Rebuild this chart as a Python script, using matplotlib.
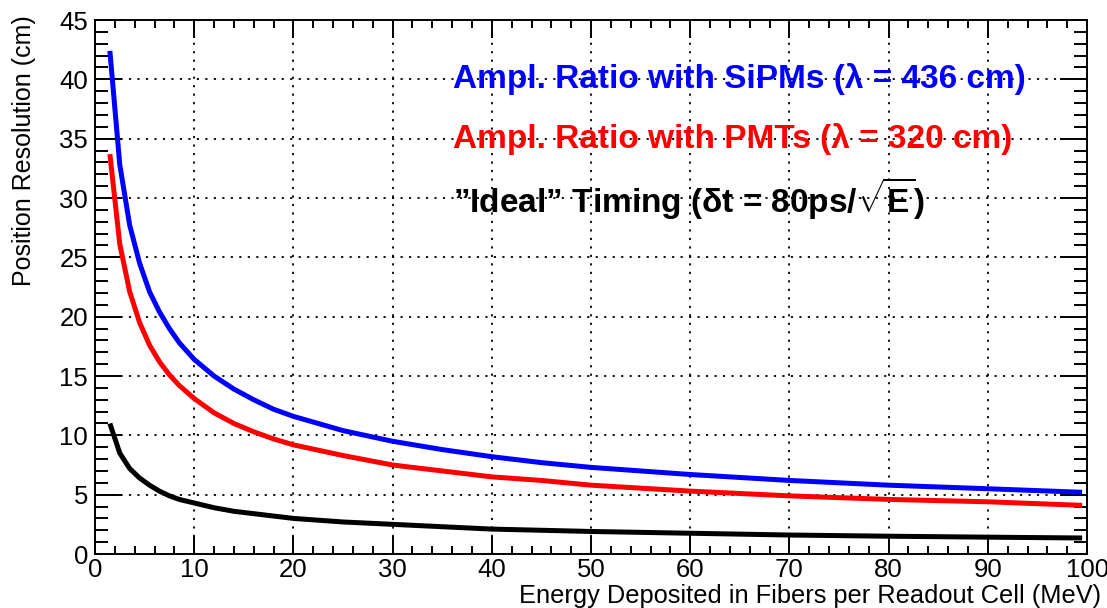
import numpy as np
import matplotlib
matplotlib.use('Agg')
from matplotlib import pyplot as plt

# energy deposited (MeV) and position resolution (cm)
energy = [1.5, 2.5, 3.5, 4.5, 5.5, 6.5, 7.5, 8.5, 10, 12, 14, 16, 18, 20,
          25, 30, 35, 40, 45, 50, 60, 70, 80, 90, 99.5]
sipm = [42.4, 32.8, 27.7, 24.5, 22.1, 20.4, 19.0, 17.8, 16.4, 15.0, 13.9, 13.0, 12.2, 11.6,
        10.4, 9.5, 8.8, 8.2, 7.7, 7.3, 6.7, 6.2, 5.8, 5.5, 5.2]
pmt = [33.7, 26.1, 22.1, 19.5, 17.6, 16.2, 15.1, 14.2, 13.1, 11.9, 11.0, 10.3, 9.7, 9.2,
       8.3, 7.5, 7.0, 6.5, 6.2, 5.8, 5.3, 4.9, 4.6, 4.4, 4.1]
ideal = [11.0, 8.5, 7.2, 6.4, 5.8, 5.3, 4.9, 4.6, 4.3, 3.9, 3.6, 3.4, 3.2, 3.0,
         2.7, 2.5, 2.3, 2.1, 2.0, 1.9, 1.75, 1.6, 1.5, 1.42, 1.35]

labels = ['Ampl. Ratio with SiPMs (λ = 436 cm)',
          'Ampl. Ratio with PMTs (λ = 320 cm)',
          '”Ideal” Timing (δt = 80ps/$\\sqrt{\\mathbf{E}}$)']
colors = ['#0000ff', '#ff0000', '#000000']

plt.rcParams['font.family'] = ['Liberation Sans', 'DejaVu Sans']
plt.rcParams['mathtext.fontset'] = 'custom'
plt.rcParams['mathtext.rm'] = 'Liberation Sans'
plt.rcParams['mathtext.bf'] = 'Liberation Sans:bold'

fig = plt.figure(figsize=(11.07, 6.08), dpi=100)
ax = fig.add_axes([0.0858, 0.0888, 0.8962, 0.8783])

for ys, c in zip([sipm, pmt, ideal], colors):
    ax.plot(energy, ys, color=c, lw=3.6, solid_capstyle='butt', zorder=3)

ax.set_xlim(0, 100)
ax.set_ylim(0, 45)
ax.set_xticks(np.arange(0, 101, 10))
ax.set_xticks(np.arange(0, 101, 2), minor=True)
ax.set_yticks(np.arange(0, 46, 5))
ax.set_yticks(np.arange(0, 46, 1), minor=True)

ax.grid(True, which='major', color='black', linestyle=(0, (1.2, 3.5)), lw=1.3)
ax.tick_params(which='both', direction='in', top=True, right=True, width=1.4, labelsize=18.5)
ax.tick_params(axis='y', which='major', length=19.5, pad=5)
ax.tick_params(axis='y', which='minor', length=9.5)
ax.tick_params(axis='x', which='major', length=13, pad=3)
ax.tick_params(axis='x', which='minor', length=6)
for s in ax.spines.values():
    s.set_linewidth(1.4)

ax.set_xlabel('Energy Deposited in Fibers per Readout Cell (MeV)', fontsize=18.3)
ax.xaxis.set_label_coords(1.0141, -0.079)
ax.xaxis.label.set_ha('right')
ax.xaxis.label.set_va('center')
ax.set_ylabel('Position Resolution (cm)', fontsize=18)
ax.yaxis.set_label_coords(-0.0716, 1.009)
ax.yaxis.label.set_ha('right')
ax.yaxis.label.set_va('center')

for lab, c, yy in zip(labels, colors, [40, 35, 30]):
    ax.text(36.1, yy, lab, color=c, fontsize=24, fontweight='bold', va='center', ha='left')

fig.savefig('out.png', dpi=100)
